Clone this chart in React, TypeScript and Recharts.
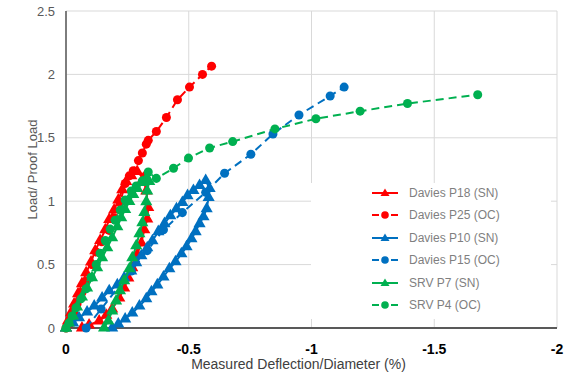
import React from 'react'
import {
  ScatterChart,
  Scatter,
  XAxis,
  YAxis,
  ZAxis,
  CartesianGrid,
  Label,
} from 'recharts'

// [deflection/diameter %, load/proof load]
const P18_SN: [number, number][] = [
  [0, 0], [-0.008, 0.055], [-0.02, 0.12], [-0.033, 0.19], [-0.049, 0.27], [-0.065, 0.35],
  [-0.082, 0.435], [-0.102, 0.52], [-0.119, 0.61], [-0.139, 0.69], [-0.16, 0.775],
  [-0.176, 0.855], [-0.196, 0.93], [-0.213, 1.01], [-0.229, 1.09], [-0.245, 1.155],
  [-0.266, 1.2], [-0.29, 1.235], [-0.315, 1.18], [-0.327, 1.08], [-0.335, 0.95],
  [-0.331, 0.86], [-0.319, 0.775], [-0.307, 0.67], [-0.29, 0.58], [-0.27, 0.475],
  [-0.254, 0.395], [-0.237, 0.316], [-0.217, 0.237], [-0.188, 0.15], [-0.164, 0.1],
  [-0.135, 0.055], [-0.094, 0.024], [-0.065, 0],
]

const P25_OC: [number, number][] = [
  [0, 0], [-0.02, 0.04], [-0.033, 0.11], [-0.045, 0.19], [-0.065, 0.28], [-0.082, 0.37],
  [-0.106, 0.5], [-0.123, 0.6], [-0.145, 0.68], [-0.176, 0.77], [-0.196, 0.87],
  [-0.221, 0.99], [-0.241, 1.14], [-0.258, 1.2], [-0.274, 1.24], [-0.295, 1.32],
  [-0.311, 1.38], [-0.327, 1.45], [-0.335, 1.48], [-0.368, 1.55], [-0.409, 1.66],
  [-0.454, 1.8], [-0.503, 1.9], [-0.556, 2.0], [-0.593, 2.065],
]

const P10_SN: [number, number][] = [
  [0, 0], [-0.029, 0.04], [-0.053, 0.08], [-0.086, 0.127], [-0.115, 0.174], [-0.147, 0.237],
  [-0.176, 0.293], [-0.209, 0.34], [-0.237, 0.396], [-0.266, 0.45], [-0.286, 0.514],
  [-0.307, 0.57], [-0.331, 0.633], [-0.352, 0.688], [-0.376, 0.76], [-0.401, 0.823],
  [-0.425, 0.886], [-0.45, 0.94], [-0.474, 0.99], [-0.495, 1.044], [-0.519, 1.084],
  [-0.544, 1.123], [-0.569, 1.163], [-0.585, 1.1], [-0.581, 1.03], [-0.573, 0.94],
  [-0.56, 0.878], [-0.544, 0.823], [-0.528, 0.76], [-0.511, 0.704], [-0.491, 0.64],
  [-0.47, 0.585], [-0.446, 0.522], [-0.421, 0.467], [-0.397, 0.403], [-0.372, 0.34],
  [-0.348, 0.285], [-0.327, 0.23], [-0.299, 0.174], [-0.27, 0.119], [-0.241, 0.071],
  [-0.213, 0.032], [-0.188, 0],
]

const P15_OC: [number, number][] = [
  [-0.082, 0], [-0.143, 0.15], [-0.266, 0.45], [-0.331, 0.61], [-0.397, 0.775],
  [-0.474, 0.91], [-0.569, 1.07], [-0.646, 1.22], [-0.753, 1.37], [-0.843, 1.53],
  [-0.949, 1.68], [-1.076, 1.83], [-1.133, 1.9],
]

const P7_SN: [number, number][] = [
  [0, 0], [-0.012, 0.04], [-0.029, 0.095], [-0.045, 0.166], [-0.065, 0.245], [-0.086, 0.316],
  [-0.106, 0.396], [-0.127, 0.475], [-0.147, 0.554], [-0.168, 0.633], [-0.188, 0.712],
  [-0.209, 0.799], [-0.225, 0.87], [-0.241, 0.934], [-0.258, 0.997], [-0.274, 1.052],
  [-0.29, 1.1], [-0.311, 1.147], [-0.327, 1.18], [-0.339, 1.155], [-0.331, 1.08],
  [-0.327, 0.996], [-0.319, 0.91], [-0.311, 0.83], [-0.299, 0.743], [-0.286, 0.648],
  [-0.27, 0.554], [-0.258, 0.467], [-0.237, 0.372], [-0.22, 0.293], [-0.204, 0.213],
  [-0.188, 0.134], [-0.172, 0.055], [-0.155, 0],
]

const P4_OC: [number, number][] = [
  [0, 0], [-0.012, 0.04], [-0.025, 0.095], [-0.041, 0.16], [-0.061, 0.23], [-0.082, 0.31],
  [-0.102, 0.4], [-0.123, 0.5], [-0.139, 0.59], [-0.16, 0.69], [-0.18, 0.78],
  [-0.2, 0.85], [-0.221, 0.93], [-0.241, 1.01], [-0.266, 1.08], [-0.286, 1.12],
  [-0.311, 1.16], [-0.335, 1.23], [-0.368, 1.18], [-0.438, 1.26], [-0.499, 1.34],
  [-0.585, 1.42], [-0.679, 1.47], [-0.851, 1.57], [-1.018, 1.65], [-1.198, 1.71],
  [-1.391, 1.77], [-1.677, 1.84],
]

const X_TICKS = [0, -0.5, -1, -1.5, -2]
const Y_TICKS = [0, 0.5, 1, 1.5, 2, 2.5]

const RED = '#ff0000'
const BLUE = '#0070c0'
const GREEN = '#00b050'
const FONT = '"Liberation Sans", Arial, sans-serif'

const SERIES = [
  { name: 'Davies P18 (SN)', data: P18_SN, color: RED, dashed: false },
  { name: 'Davies P25 (OC)', data: P25_OC, color: RED, dashed: true },
  { name: 'Davies P10 (SN)', data: P10_SN, color: BLUE, dashed: false },
  { name: 'Davies P15 (OC)', data: P15_OC, color: BLUE, dashed: true },
  { name: 'SRV P7 (SN)', data: P7_SN, color: GREEN, dashed: false },
  { name: 'SRV P4 (OC)', data: P4_OC, color: GREEN, dashed: true },
]

const toPoints = (pts: [number, number][]) => pts.map(([x, y]) => ({ x, y }))

function LegendBox() {
  return (
    <div
      style={{
        position: 'absolute',
        left: 311,
        top: 183,
        width: 240,
        height: 136,
        background: '#fff',
        fontFamily: FONT,
      }}
    >
      {SERIES.map((s, i) => (
        <div
          key={s.name}
          style={{ position: 'absolute', left: 0, top: 1 + i * 22.4, height: 18, display: 'flex', alignItems: 'center' }}
        >
          <svg width={90} height={18} style={{ display: 'block' }}>
            {s.dashed ? (
              <>
                <line x1={61} y1={9} x2={68} y2={9} stroke={s.color} strokeWidth={2} />
                <line x1={80} y1={9} x2={87} y2={9} stroke={s.color} strokeWidth={2} />
                <circle cx={74} cy={9} r={3.8} fill={s.color} />
              </>
            ) : (
              <>
                <line x1={61} y1={9} x2={87} y2={9} stroke={s.color} strokeWidth={2} />
                <polygon points="74,4.5 78.5,12 69.5,12" fill={s.color} />
              </>
            )}
          </svg>
          <span style={{ fontSize: 12, color: '#7f7f7f', marginLeft: 8 }}>{s.name}</span>
        </div>
      ))}
    </div>
  )
}

export default function App() {
  return (
    <div style={{ position: 'absolute', left: 0, top: 0, width: 565, height: 372, background: '#fff' }}>
      <ScatterChart width={565} height={372} margin={{ top: 11, right: 8, bottom: 0, left: 0 }}>
        <CartesianGrid stroke="#d9d9d9" strokeWidth={1} />
        <XAxis
          type="number"
          dataKey="x"
          domain={[-2, 0]}
          reversed
          ticks={X_TICKS}
          tickFormatter={(v) => String(v)}
          height={44}
          tickSize={0}
          tickMargin={16}
          axisLine={{ stroke: '#595959', strokeWidth: 2 }}
          tick={{ fill: '#000', fontSize: 14, fontWeight: 700, fontFamily: FONT }}
        >
          <Label
            value="Measured Deflection/Diameter (%)"
            position="insideBottom"
            offset={3}
            dx={-13}
            style={{ fill: '#404040', fontSize: 14, fontFamily: FONT }}
          />
        </XAxis>
        <YAxis
          type="number"
          dataKey="y"
          domain={[0, 2.5]}
          ticks={Y_TICKS}
          width={66}
          tickSize={0}
          tickMargin={11}
          axisLine={{ stroke: '#595959', strokeWidth: 1.5 }}
          tick={{ fill: '#595959', fontSize: 13, fontFamily: FONT }}
        >
          <Label
            value="Load/ Proof Load"
            angle={-90}
            position="insideLeft"
            offset={32}
            style={{ fill: '#595959', fontSize: 13, fontFamily: FONT, textAnchor: 'middle' }}
          />
        </YAxis>
        <ZAxis range={[44, 44]} />
        {SERIES.map((s) => (
          <Scatter
            key={s.name}
            name={s.name}
            data={toPoints(s.data)}
            fill={s.color}
            shape={s.dashed ? 'circle' : 'triangle'}
            line={{ stroke: s.color, strokeWidth: 2, strokeDasharray: s.dashed ? '8 5' : undefined }}
            lineType="joint"
            isAnimationActive={false}
          />
        ))}
      </ScatterChart>
      <LegendBox />
    </div>
  )
}
